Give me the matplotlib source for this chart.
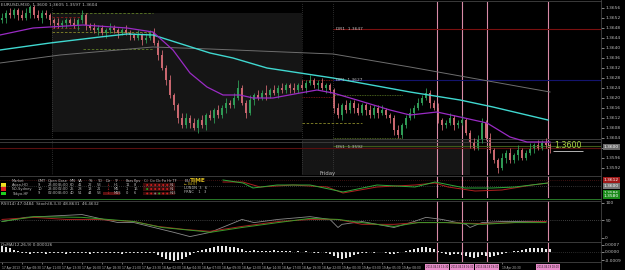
import numpy as np
import pandas as pd
import matplotlib
matplotlib.use("Agg")
import matplotlib.pyplot as plt

W, H = 625, 270

# -----------------------------
# Kursdaten (Pips ueber 1.3500)
# -----------------------------
first_open = 151
close_pips = [152, 154, 153, 155, 153, 152, 154, 156, 153, 152, 154, 153, 151,
              150, 149, 150, 151, 150, 149, 151, 153,
              149, 148, 147, 148, 146, 147, 148, 147, 146, 147, 146,
              145, 144, 145, 143, 144, 146,
              142, 137, 132, 127, 121, 117, 112, 109,
              112, 110, 108, 111, 109, 113,
              112, 115, 113, 116, 118, 117, 120,
              124,
              118, 114,
              119, 121, 120, 122, 121, 123, 122, 124, 123, 125, 124, 123, 125,
              124, 126, 127, 125, 126, 124, 125, 123,
              116,
              113, 117, 115, 118, 116, 114, 117,
              115, 113, 116, 114, 115, 113, 112,
              107, 105, 109,
              112, 114, 116, 118, 120, 122,
              118, 116,
              111, 109, 110, 112, 109, 110, 111,
              106, 102, 100,
              103,
              110,
              104, 99, 95, 92,
              96, 98, 95, 97, 99, 96, 98, 100,
              101, 100, 102, 101, 100]
upper_wick = [2, 1, 2, 1, 1, 2, 2, 1, 1, 2, 1, 1, 1,
              1, 2, 1, 1, 1, 2, 1, 2,
              1, 1, 2, 1, 1, 1, 2, 1, 1, 1, 2,
              1, 1, 2, 1, 2, 1,
              2, 1, 2, 1, 2, 1, 1, 2,
              2, 1, 2, 1, 2, 1,
              2, 1, 2, 1, 2, 1, 2,
              3,
              1, 1,
              2, 1, 2, 1, 3, 1, 2, 1, 2, 1, 1, 2, 1,
              2, 1, 2, 1, 1, 2, 1, 1,
              1,
              2, 1, 2, 1, 1, 2, 1,
              1, 2, 1, 1, 2, 1, 1,
              1, 2, 1,
              1, 2, 1, 2, 1, 2,
              1, 1,
              2, 1, 1, 2, 1, 1, 2,
              1, 1, 2,
              2,
              2,
              1, 2, 1, 1,
              2, 1, 2, 1, 2, 1, 1, 2,
              1, 2, 1, 2, 1]
lower_wick = [1, 2, 1, 1, 2, 1, 1, 2, 1, 1, 2, 1, 2,
              2, 1, 1, 2, 1, 1, 2, 1,
              2, 1, 1, 2, 1, 2, 1, 1, 2, 1, 1,
              2, 1, 1, 2, 1, 1,
              1, 2, 1, 2, 1, 2, 2, 1,
              1, 2, 1, 2, 1, 2,
              1, 2, 1, 1, 2, 1, 1,
              1,
              1, 2,
              1, 2, 1, 1, 2, 1, 1, 2, 1, 1, 2, 1, 1,
              1, 2, 1, 1, 2, 1, 2, 1,
              2,
              1, 2, 1, 1, 2, 1, 1,
              2, 1, 1, 2, 1, 1, 2,
              2, 1, 1,
              1, 1, 2, 1, 1, 1,
              2, 1,
              1, 2, 1, 1, 2, 1, 1,
              1, 2, 1,
              1,
              1,
              1, 1, 1, 2,
              1, 2, 1, 1, 2, 1, 1, 1,
              2, 1, 1, 1, 2]

# gleitende Durchschnitte (Stuetzpunkte: Kerzenindex, Pips)
ma_fast_idx = [-0.5, 7.75, 20.25, 31.25, 37.75, 42.75, 47, 51.25, 55.25, 59.5, 62.75, 67.75,
               74.5, 78.75, 82.75, 88.75, 97, 102, 108.75, 114.5, 121.25, 127, 131.25, 137]
ma_fast = [145, 147.8, 149, 147.8, 146.2, 139, 129.8, 124.2, 121, 121, 119.8, 119.8,
           121.8, 123, 121.8, 119, 115, 113, 114.2, 112.2, 109.8, 104.2, 102.2, 102.2]
ma_mid_idx = [-0.5, 12, 24.5, 31.25, 37.75, 52, 57.75, 66.25, 74.5, 82.75, 102, 114.5, 122.75, 136.5]
ma_mid = [139, 141.8, 144.2, 145.4, 145, 137.8, 135.8, 131.8, 129.8, 127.8, 122.2, 119, 116.2, 111]
ma_slow_idx = [-0.5, 14.5, 37.75, 52, 82.75, 102, 132.75, 137]
ma_slow = [133.8, 137, 140.2, 139.4, 137.4, 132.2, 123.4, 122.2]

# Pivot-Level
pivot_names = ["DR1", "DP1", "DS1"]
pivot_values = [147.4, 127.0, 100.2]
pivot_labels = ["1.3647", "1.3627", "1.3592"]

# Unterfenster 1 (Pips ueber 1.3500)
sub1_idx_green = [55.25, 60.25, 62.75, 68.75, 77, 85.25, 93.75, 103.25, 108.25, 115.75, 122.5, 128.25, 136.5]
sub1_green = [112, 106, 96, 102, 102, 88, 102, 98, 108, 96, 96, 98, 106]
sub1_idx_red = [55.25, 60.25, 64.5, 72.75, 81.25, 85.25, 93.75, 103.25, 108.25, 111.5, 118.25, 125, 132.5, 136.5]
sub1_red = [108, 108, 98, 102, 98, 86, 98, 102, 106, 98, 90, 92, 102, 106]

# Unterfenster 2 (0..100)
osc_gray_idx = [0, 6, 20, 29, 33, 38, 43, 47, 52, 57, 60, 63, 69, 77, 82, 84, 85, 90, 98, 103,
                106, 110, 116, 117, 120, 125, 136]
osc_gray = [47, 59, 67, 44, 44, 30, 16, 4, 16, 39, 53, 44, 53, 61, 53, 30, 39, 47, 30, 47,
            59, 53, 39, 30, 44, 47, 47]
osc_red_idx = [0, 8, 16, 24, 33, 39, 46, 52, 60, 69, 77, 84, 90, 98, 104, 111, 120, 128, 136]
osc_red = [53, 59, 53, 53, 47, 33, 24, 19, 33, 47, 53, 53, 39, 39, 44, 44, 41, 44, 47]
osc_green_idx = [0, 8, 20, 33, 40, 50, 52, 60, 69, 77, 84, 90, 98, 104, 111, 120, 128, 136]
osc_green = [47, 61, 59, 47, 30, 19, 16, 30, 44, 56, 53, 44, 33, 44, 44, 39, 44, 44]

# Histogramm (x 1e-4)
hist = [6, 5, 4, 2, 1,
        -1, -1, -2, -1, -1, -1, -2, -1, -1, -1, -1, -2, -1, -1, -1, -1, -1, -2, -1, -1,
        -1, -1, -1, -1, -1, -2, -1, -1, -1, -1, -1, -1, -1, -1,
        -3, -5, -7, -8, -9, -8, -7, -5,
        -3, -1, 1, 2, 3, 4,
        5, 6, 6, 6, 5, 5, 4, 3,
        1, 1, 2, 1, 1, 1, 1, 2, 1, 1, 1, 1, 0, 1,
        0, 1, 0, -1, -1, 0, -1,
        -2, -4, -6, -7, -6, -5, -3, -2,
        -1, -1, 0, -1, 0, 0, -1, -2, -2, -1, 0,
        1, 2, 3, 4, 5, 5, 4, 3, 1,
        -1, -2, -3, -2, -2, -3, -4, -5, -6, -5, -3, -4, -5, -4, -3,
        -2, -1, 0, 1, 1,
        2, 3, 4, 4, 4, 4, 3, 3]

# Zeitachse: Beschriftung alle 5 Kerzen (M30), vertikale Ereignislinien
time_ticks = [0, 5, 10, 15, 20, 25, 30, 35, 40, 45, 50, 55, 60, 65, 70, 75, 80, 85,
              90, 95, 100, 125]
bar_times = pd.date_range("2013-04-17 06:00", periods=150, freq="30min")
event_idx = [108.75, 115, 121.25, 136.5]
event_labels = ["2013.04.18 13:30", "2013.04.18 16:30", "2013.04.18 19:30", "2013.04.19 03:00"]

BULL, BEAR = "#2f9a55", "#c9676f"
GRID = "#444444"
TXT = "#bdbdbd"
FS = 3.2

fig = plt.figure(figsize=(W / 100, H / 100), dpi=100, facecolor="black")


def panel(top, bottom, left=0, right=601):
    ax = fig.add_axes([left / W, 1 - bottom / H, (right - left) / W, (bottom - top) / H])
    ax.set_facecolor("black")
    ax.set_xlim(-0.5, 149.75)
    for s in ax.spines.values():
        s.set_visible(False)
    ax.tick_params(axis="x", bottom=False, labelbottom=False)
    ax.yaxis.tick_right()
    ax.tick_params(axis="y", colors=TXT, labelsize=FS, length=2, pad=1, width=0.5)
    for v in event_idx:
        ax.axvline(v, color="#d98aa6", lw=0.8)
    return ax


# -----------------------------
# Hauptfenster
# -----------------------------
ax = panel(2, 175)
ax.set_ylim(89, 158.2)
ax.fill_between([12.5, 75], 106.2, 153.8, color="#151515", lw=0)
ax.fill_between([75, 117], 89, 103, color="#151515", lw=0)
for v in [12.5, 75, 82.75]:
    ax.axvline(v, color="#555555", lw=0.5, ls=(0, (1, 2)))

# Hilfslinien
ax.hlines([153.8, 146.2], 12.5, 37.75, colors=["#5e7d25", "#8a8a2a"], lw=0.6, ls=(0, (3, 2)))
ax.hlines([152.2, 147.8], 12.5, 19.5, colors="#8b1a1a", lw=0.6, ls=(0, (3, 2)))
ax.hlines(139.4, 20.25, 37.75, colors="#5e7d25", lw=0.6, ls=(0, (3, 2)))
ax.hlines([127, 120.2], 75, 82.75, colors="#8b1a1a", lw=0.6, ls=(0, (1, 1)))
ax.hlines([121, 103.8], 82.75, 100.25, colors="#5e7d25", lw=0.6, ls=(0, (1, 1)))
ax.hlines(109.8, 75, 90, colors="#8a8a2a", lw=0.6, ls=(0, (3, 2)))
ax.axhline(103.4, color="#3a3a3a", lw=0.7)
ax.axhline(102.2, color="#3a3a3a", lw=0.7)
ax.axhline(99.8, color="#5a1010", lw=0.8)

ax.hlines(pivot_values[0], 82.75, 149.75, colors="#7a1010", lw=0.8)
ax.hlines(pivot_values[1], 82.75, 149.75, colors="#14146e", lw=0.8)
ax.hlines(pivot_values[2] + 0.4, 82.75, 149.75, colors="#3e5a18", lw=0.8)
for name, v, lab in zip(pivot_names, pivot_values, pivot_labels):
    ax.text(83.5, v, f"{name}  {lab}", color=TXT, fontsize=FS, va="center")

# Kerzen
opens = np.array([first_open] + close_pips[:-1], dtype=float)
closes = np.array(close_pips, dtype=float)
highs = np.maximum(opens, closes) + np.array(upper_wick)
lows = np.minimum(opens, closes) - np.array(lower_wick)
idx = np.arange(len(closes))
cols = np.where(closes >= opens, BULL, BEAR)
ax.vlines(idx, lows, highs, colors=cols, lw=0.6)
body = np.maximum(np.abs(closes - opens), 0.4)
ax.bar(idx, body, bottom=np.minimum(opens, closes), width=0.55, color=cols, lw=0)

ax.plot(ma_slow_idx, ma_slow, color="#6e6e6e", lw=0.7)
ax.plot(ma_mid_idx, ma_mid, color="#40d8d0", lw=1.0)
ax.plot(ma_fast_idx, ma_fast, color="#9a2bc4", lw=0.9)

ax.hlines(98.6, 137.75, 145.25, colors="#cfcfcf", lw=0.6)
ax.text(141.5, 99.2, "1.3600", color="#a8d040", fontsize=5.8, ha="center", va="bottom")

yt = np.arange(156, 90, -4)
ax.set_yticks(yt)
ax.set_yticklabels([f"1.{3500 + v:04d}" for v in yt])
ax.text(150.5, 100.2, "1.3600", color="white", fontsize=FS, va="center",
        bbox=dict(boxstyle="square,pad=0.15", fc="#6a6a6a", ec="none"))
ax.text(-0.2, 157.6, "EURUSD,M30  1.3600 1.3605 1.3597 1.3604", color=TXT, fontsize=FS, va="top")
ax.text(81.5, 89.6, "Friday", color=TXT, fontsize=FS + 0.6, ha="center", va="center")

# -----------------------------
# Unterfenster 1 mit Sitzungstabelle
# -----------------------------
ax1 = panel(176, 198)
ax1.set_ylim(76, 120)
ax1.axhline(112, color="#7a2020", lw=0.5, ls=(0, (1, 2)))
ax1.axhline(100, color="#666666", lw=0.5, ls=(0, (1, 2)))
ax1.plot(sub1_idx_red, sub1_red, color="#b02020", lw=0.7)
ax1.plot(sub1_idx_green, sub1_green, color="#2eaa3a", lw=0.7)
ax1.set_yticks([])
for v, lab, fc in [(112, "1.3612", "#a01818"), (100, "1.3600", "#777777"),
                   (86, "1.3586", "#1a8a1a"), (80, "1.3580", "#1a8a1a")]:
    ax1.text(150.5, v, lab, color="white", fontsize=FS, va="center",
             bbox=dict(boxstyle="square,pad=0.15", fc=fc, ec="none"))

rows_y = [110, 102, 94, 85]
header = ["Market", "GMT", "Open", "Close", "MN", "VA", "YS", "TD", "Dir", "TF", "Bars", "Pips"]
col_x = [2.5, 9, 11.5, 14, 17, 19, 21.5, 23.75, 26, 27.9, 31, 33]
table = [["Asian-HO", "9", "23:00", "05:00", "60", "41", "22", "53", "\u2193", "H1", "11", "8"],
         ["NO-Sydney", "10", "23:00", "02:00", "25", "28", "13", "21", "\u2193", "M5", "1", "16"],
         ["Tokyo-HF", "9", "02:00", "05:00", "40", "51", "44", "53", "\u2193", "M15", "0", "6"]]
marker_cols = ["#f0e020", "#e02020", "#20d020"]
dot_cols = [["#d02020"] * 6,
            ["#20b020", "#d02020", "#d02020", "#d02020", "#d02020", "#d02020"],
            ["#d02020", "#d02020", "#808080", "#20b020", "#d02020", "#d02020"]]
row_tf = ["H1", "H1", "H15"]
fs_t = 2.6
for cx, h in zip(col_x, header):
    ax1.text(cx, rows_y[0], h, color=TXT, fontsize=fs_t, va="center")
ax1.text(35.5, rows_y[0], "CI  Co Cb Fo Hr TF", color=TXT, fontsize=fs_t, va="center")
for r in range(3):
    y = rows_y[r + 1]
    ax1.bar(0.3, 7, bottom=y - 3.5, width=1.3, color=marker_cols[r], lw=0)
    if r == 2:
        ax1.bar(27.4, 7, bottom=y - 3.5, width=4.3, color="#5a1010", lw=0, zorder=0)
    ax1.bar(39.2, 7, bottom=y - 3.5, width=8, color="#3a0c0c", lw=0, zorder=0)
    for c, (cx, cell) in enumerate(zip(col_x, table[r])):
        ax1.text(cx, y, cell, color="#d03030" if c == 8 else TXT, fontsize=fs_t, va="center")
    ax1.scatter([36.3, 37.3, 38.3, 39.3, 40.3, 41.3], [y] * 6, s=2.0, c=dot_cols[r], lw=0)
    ax1.text(41.9, y, row_tf[r], color=TXT, fontsize=fs_t - 0.3, va="center")
ax1.text(45.6, 111, "EU", color=TXT, fontsize=FS, va="center")
ax1.text(47.1, 112, "TIME", color="#e0c020", fontsize=FS + 1.0, va="center", weight="bold")
ax1.text(45.6, 104, "\u2190 04:07", color="#e0c020", fontsize=fs_t - 0.3, va="center")
ax1.text(45.6, 96, "LONDN  3   6", color=TXT, fontsize=fs_t, va="center")
ax1.text(45.6, 88, "FRNC    1   3", color=TXT, fontsize=fs_t, va="center")

# -----------------------------
# Unterfenster 2 (Oszillator)
# -----------------------------
ax2 = panel(201, 241)
ax2.set_ylim(-8.6, 105.7)
ax2.axhline(50, color="#777777", lw=0.5, ls=(0, (1, 2)))
ax2.plot(osc_gray_idx, osc_gray, color="#8a8a8a", lw=0.6)
ax2.plot(osc_red_idx, osc_red, color="#a82020", lw=0.7)
ax2.plot(osc_green_idx, osc_green, color="#3a9a2a", lw=0.7)
ax2.set_yticks([100, 50, 0])
ax2.set_yticklabels(["100", "50", "0"])
ax2.text(-0.2, 104, "RSI(14) 47.0484  Stoch(8,3,3) 48.8631  46.4632", color=TXT, fontsize=FS - 0.2, va="top")

# -----------------------------
# Unterfenster 3 (Histogramm) + Zeitachse
# -----------------------------
ax3 = panel(243, 262)
ax3.set_ylim(-9.5, 8.5)
ax3.axhline(0, color="#555555", lw=0.5, ls=(0, (1, 2)))
ax3.bar(np.arange(len(hist)), hist, width=0.35, color="#e8e8e8", lw=0)
ax3.set_yticks([7, 0, -8])
ax3.set_yticklabels(["0.0007", "0.0000", "-0.0009"])
ax3.text(-0.2, 8.3, "OsMA(12,26,9) 0.000026", color=TXT, fontsize=FS - 0.2, va="top")

labels = [bar_times[t].strftime("%d %b %Y") if t == 0 else bar_times[t].strftime("%d %b %H:%M")
          for t in time_ticks]
ax3.set_xticks(time_ticks)
ax3.set_xticklabels(labels, ha="left")
ax3.tick_params(axis="x", bottom=True, labelbottom=True, colors=TXT, labelsize=2.1,
                length=1.5, pad=1.2, width=0.4)
tr = ax3.get_xaxis_transform()
for v, lab in zip(event_idx, event_labels):
    ax3.text(v, -0.27, lab, transform=tr, color="#222222", fontsize=1.85, ha="center", va="center",
             bbox=dict(boxstyle="square,pad=0.25", fc="#e78bc8", ec="none"))

# Trennlinien
for y_px, c in [(175.5, GRID), (199, "#2e8b2e"), (200.5, GRID), (242, GRID), (262.3, GRID), (0.5, GRID)]:
    fig.add_artist(plt.Line2D([0, 601 / W], [1 - y_px / H] * 2, color=c, lw=0.6))
fig.add_artist(plt.Line2D([601 / W] * 2, [0, 1], color=GRID, lw=0.6))

fig.savefig("out.png", dpi=100, facecolor="black")
